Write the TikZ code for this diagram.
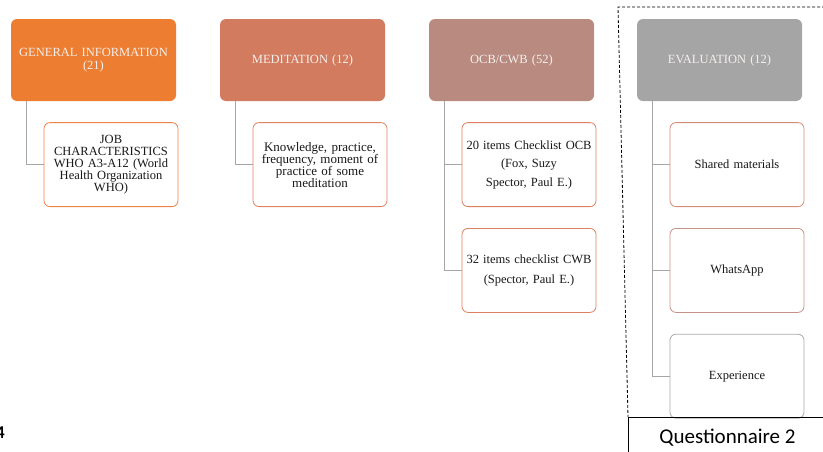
\documentclass[tikz,border=0pt]{standalone}
\usepackage{fontspec}
\setmainfont{Liberation Serif}
\newfontfamily\questfont{Carlito}
\usetikzlibrary{positioning}

\definecolor{genorange}{HTML}{ED7D31}
\definecolor{medorange}{HTML}{D27B5E}
\definecolor{ocbrose}{HTML}{B98A80}
\definecolor{evalgray}{HTML}{A5A5A5}
\definecolor{headtext}{HTML}{F4F0EE}
\definecolor{linkgray}{HTML}{A6A6A6}
\definecolor{jobline}{HTML}{EE8448}
\definecolor{medline}{HTML}{E2835F}
\definecolor{ocbline}{HTML}{DE7F60}
\definecolor{shareline}{HTML}{D68C76}
\definecolor{whatsline}{HTML}{C39389}
\definecolor{expline}{HTML}{AEAAAA}

\begin{document}
\begin{tikzpicture}[x=1pt, y=-1pt,
  head/.style={rounded corners=6pt, minimum width=165pt, minimum height=82pt,
    text width=160pt, align=center, inner sep=0pt, text=headtext,
    font=\fontsize{12.5}{13}\selectfont},
  item/.style={draw, line width=0.8pt, rounded corners=6pt, fill=white,
    minimum width=134pt, minimum height=84pt, text width=132pt, align=center,
    inner sep=0pt, text=black!90, font=\fontsize{12.5}{11.8}\selectfont},
  link/.style={draw=linkgray, line width=1pt}]
\useasboundingbox (0,0) rectangle (823,451);

\node (gen) [head, fill=genorange] at (93.5,60) {GENERAL INFORMATION\\(21)};
\node (job) [item, draw=jobline, below=21pt of gen, xshift=17.5pt]
  {JOB\\CHARACTERISTICS\\WHO A3-A12 (World\\Health Organization\\WHO)};

\node (med) [head, fill=medorange] at (302.5,60) {MEDITATION (12)};
\node (medpract) [item, draw=medline, below=21pt of med, xshift=17.5pt,
  font=\fontsize{13}{12}\selectfont]
  {Knowledge, practice,\\frequency, moment of\\practice of some\\meditation};

\node (ocb) [head, fill=ocbrose] at (511.5,60) {OCB/CWB (52)};
\node (ocblist) [item, draw=ocbline, below=21pt of ocb, xshift=17.5pt,
  font=\fontsize{12.5}{18.5}\selectfont]
  {20 items Checklist OCB\\(Fox, Suzy\\Spector, Paul E.)};
\node (cwblist) [item, draw=ocbline, below=21pt of ocblist,
  font=\fontsize{12.5}{19.5}\selectfont]
  {32 items checklist CWB\\(Spector, Paul E.)};

\node (eval) [head, fill=evalgray] at (719.5,60) {EVALUATION (12)};
\node (shared) [item, draw=shareline, below=21pt of eval, xshift=17.5pt] {Shared materials};
\node (whats) [item, draw=whatsline, below=21pt of shared] {WhatsApp};
\node (exper) [item, draw=expline, below=21pt of whats] {Experience};

% tree links
\draw[link] ([xshift=16pt]gen.south west) |- (job.west);
\draw[link] ([xshift=16pt]med.south west) |- (medpract.west);
\draw[link] ([xshift=16pt]ocb.south west) |- (ocblist.west);
\draw[link] ([xshift=16pt]ocb.south west) |- (cwblist.west);
\draw[link] ([xshift=16pt]eval.south west) |- (shared.west);
\draw[link] ([xshift=16pt]eval.south west) |- (whats.west);
\draw[link] ([xshift=16pt]eval.south west) |- (exper.west);

% questionnaire frame
\coordinate (frametop) at (618,7);
\coordinate (framebot) at (628,417);
\draw[dashed, dash pattern=on 3pt off 2pt, line width=0.8pt] (830,7) -- (frametop) -- (framebot);
\node (quest) [draw, line width=1pt, anchor=north west, minimum width=198pt,
  minimum height=40pt, font=\questfont\fontsize{21}{23}\selectfont] at (framebot) {Questionnaire 2};

\node (pagenum) [anchor=east, inner sep=0pt, font=\questfont\bfseries\fontsize{18}{20}\selectfont] at (5,433) {4};
\end{tikzpicture}
\end{document}
